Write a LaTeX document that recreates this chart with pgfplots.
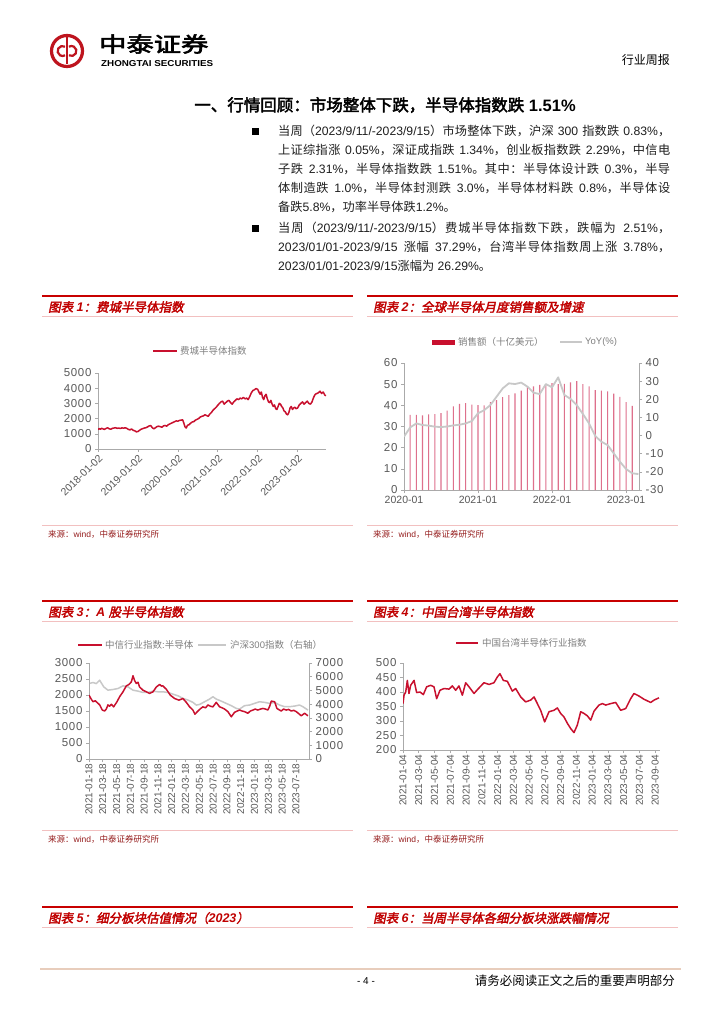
\documentclass[border=0pt]{standalone}
\usepackage{fontspec}
\usepackage{pgfplots}
\pgfplotsset{compat=1.18}
\setmainfont{Liberation Sans}
\newfontfamily\latin{Liberation Sans}
\newfontfamily\cjk{Noto Sans CJK SC}[AutoFakeBold=2.5,AutoFakeSlant=0.2]
\newfontfamily\ytf{Liberation Sans}[LetterSpace=6]

% switch to the CJK font for Chinese characters, back to Liberation Sans otherwise
\newXeTeXintercharclass\CJKcls
\count255="3000 \loop\ifnum\count255<"3040 \XeTeXcharclass\count255=\CJKcls \advance\count255 by 1 \repeat
\count255="4E00 \loop\ifnum\count255<"A000 \XeTeXcharclass\count255=\CJKcls \advance\count255 by 1 \repeat
\count255="FF00 \loop\ifnum\count255<"FFF0 \XeTeXcharclass\count255=\CJKcls \advance\count255 by 1 \repeat
\XeTeXinterchartoks 0 \CJKcls = {\cjk}
\XeTeXinterchartoks 4095 \CJKcls = {\cjk}
\XeTeXinterchartoks \CJKcls 0 = {\latin}
\XeTeXinterchartoks \CJKcls 4095 = {\latin}
\XeTeXinterchartoks \CJKcls \CJKcls = {\hskip 0pt plus 0.4pt\relax}

\definecolor{capred}{RGB}{192,0,0}
\definecolor{hdrred}{RGB}{200,0,0}
\definecolor{pinkline}{RGB}{242,192,192}
\definecolor{srcred}{RGB}{150,30,30}
\definecolor{crimson}{RGB}{200,16,46}
\definecolor{barpink}{RGB}{222,112,140}
\definecolor{lgray}{RGB}{200,200,200}
\definecolor{axgray}{RGB}{170,170,170}
\definecolor{tickgray}{RGB}{89,89,89}
\definecolor{leggray}{RGB}{128,128,128}
\definecolor{footline}{RGB}{232,205,188}
\definecolor{logored}{RGB}{190,20,30}

\pgfplotsset{
  chartax/.style={
    scale only axis, anchor=south west,
    axis line style={draw=axgray, line width=0.7pt},
    major tick style={draw=axgray, line width=0.6pt},
    major tick length=3pt, tick align=outside,
    yticklabel style={font=\ytf\fontsize{11.5}{12}\selectfont, text=tickgray},
    xticklabel style={font=\latin\fontsize{10.5}{12}\selectfont, text=tickgray},
    /pgf/number format/assume math mode=true,
    /pgf/number format/1000 sep={},
  },
}

\newcommand\capblock[4]{%
  \draw[hdrred, line width=2.4pt] (#1,-#3) -- (#2,-#3);
  \node[anchor=west, inner sep=0, font=\fontsize{12.5}{14}\selectfont\bfseries\itshape, text=capred] at (#1+6,-#3-11) {#4};
  \draw[pinkline, line width=1pt] (#1,-#3-20) -- (#2,-#3-20);
}
\newcommand\srcblock[3]{%
  \draw[pinkline, line width=1pt] (#1,-#3) -- (#2,-#3);
  \node[anchor=west, inner sep=0, font=\fontsize{8.5}{10}\selectfont, text=srcred] at (#1+6,-#3-9.5) {来源：wind，中泰证券研究所};
}

\begin{document}
\XeTeXinterchartokenstate=1
\begin{tikzpicture}[x=1pt,y=1pt]
\fill[white] (0,-1024) rectangle (724,0);
\useasboundingbox (0,-1024) rectangle (724,0);

% ---------- page header ----------
\draw[logored, line width=3.2pt] (67,-51) circle (15.5);
\draw[logored, line width=2.2pt] (67,-37.5) -- (67,-64.5);
\draw[logored, line width=2.2pt] (62.6,-51) ++(60:5) arc (60:300:5);
\draw[logored, line width=2.2pt] (71.4,-51) ++(-120:5) arc (-120:120:5);
\node[anchor=west, inner sep=0] at (99,-44) {\fontsize{21}{22}\selectfont\bfseries\scalebox{1.3}[1]{中泰证券}};
\node[anchor=west, inner sep=0] at (101,-63.5) {\resizebox{112pt}{6pt}{\bfseries ZHONGTAI SECURITIES}};
\node[anchor=east, inner sep=0, font=\fontsize{12}{14}\selectfont] at (670,-60) {行业周报};

% ---------- section title and text ----------
\node[inner sep=0, font=\fontsize{16.5}{18}\selectfont\bfseries] at (385,-105) {一、行情回顾：市场整体下跌，半导体指数跌 1.51\%};

\fill[black] (251.5,-128.5) rectangle (258.5,-135.5);
\fill[black] (251.5,-225.5) rectangle (258.5,-232.5);
\node[anchor=north west, inner sep=0, text width=392pt, align=justify,
      font=\fontsize{12.2}{19}\selectfont, text=black!88] at (278,-125)
{\tolerance=10000\hbadness=10000
当周（2023/9/11/-2023/9/15）市场整体下跌，沪深 300 指数跌 0.83\%，\linebreak
上证综指涨 0.05\%，深证成指跌 1.34\%，创业板指数跌 2.29\%，中信电\linebreak
子跌 2.31\%，半导体指数跌 1.51\%。其中：半导体设计跌 0.3\%，半导\linebreak
体制造跌 1.0\%，半导体封测跌 3.0\%，半导体材料跌 0.8\%，半导体设\linebreak
备跌5.8\%，功率半导体跌1.2\%。};
\node[anchor=north west, inner sep=0, text width=392pt, align=justify,
      font=\fontsize{12.2}{19}\selectfont, text=black!88] at (278,-222)
{\tolerance=10000\hbadness=10000
当周（2023/9/11/-2023/9/15）费城半导体指数下跌，跌幅为 2.51\%，\linebreak
2023/01/01-2023/9/15 涨幅 37.29\%，台湾半导体指数周上涨 3.78\%，\linebreak
2023/01/01-2023/9/15涨幅为 26.29\%。};

% ---------- chart frames ----------
\capblock{42}{353}{296}{图表 1：费城半导体指数}
\capblock{367}{678}{296}{图表 2：全球半导体月度销售额及增速}
\srcblock{42}{353}{525}
\srcblock{367}{678}{525}
\capblock{42}{353}{601}{图表 3：A 股半导体指数}
\capblock{367}{678}{601}{图表 4：中国台湾半导体指数}
\srcblock{42}{353}{830}
\srcblock{367}{678}{830}
\capblock{42}{353}{907}{图表 5：细分板块估值情况（2023）}
\capblock{367}{678}{907}{图表 6：当周半导体各细分板块涨跌幅情况}

% ---------- legends ----------
\begin{scope}[font=\fontsize{9.5}{11}\selectfont, text=leggray]
\draw[crimson, line width=2.5pt] (153,-351) -- (177,-351);
\node[anchor=west, inner sep=0] at (180,-351) {费城半导体指数};
\fill[crimson] (432,-339.5) rectangle (455,-344.5);
\node[anchor=west, inner sep=0] at (458,-342) {销售额（十亿美元）};
\draw[lgray, line width=2.5pt] (560,-342) -- (582,-342);
\node[anchor=west, inner sep=0] at (585,-342) {YoY(\%)};
\draw[crimson, line width=2.5pt] (78,-645) -- (102,-645);
\node[anchor=west, inner sep=0] at (105,-645) {中信行业指数:半导体};
\draw[lgray, line width=2.5pt] (198,-645) -- (226,-645);
\node[anchor=west, inner sep=0] at (230,-645) {沪深300指数（右轴）};
\draw[crimson, line width=2.5pt] (456,-643) -- (478,-643);
\node[anchor=west, inner sep=0] at (482,-643) {中国台湾半导体行业指数};
\end{scope}

% ---------- chart 1: SOX ----------
\begin{axis}[chartax, at={(98pt,-449pt)}, width=228pt, height=76pt,
  axis x line*=bottom, axis y line*=left,
  xmin=2018, xmax=2023.71, ymin=0, ymax=5000,
  ytick={0,1000,2000,3000,4000,5000},
  xtick={2018,2019,2020,2021,2022,2023},
  xticklabels={2018-01-02,2019-01-02,2020-01-02,2021-01-02,2022-01-02,2023-01-02},
  xticklabel style={rotate=45, anchor=north east, inner sep=1pt}]
\addplot[crimson, line width=1.5pt, line join=round] coordinates {
(2018.00,1280)(2018.03,1340)(2018.06,1300)(2018.09,1360)(2018.12,1330)(2018.16,1290)
(2018.20,1350)(2018.24,1400)(2018.28,1330)(2018.32,1300)(2018.36,1360)(2018.40,1380)
(2018.44,1400)(2018.48,1360)(2018.52,1380)(2018.56,1350)(2018.60,1390)(2018.64,1370)
(2018.68,1400)(2018.72,1360)(2018.76,1290)(2018.80,1260)(2018.84,1320)(2018.88,1230)
(2018.92,1200)(2018.96,1130)(2019.00,1150)(2019.04,1230)(2019.08,1300)(2019.12,1340)
(2019.16,1380)(2019.20,1400)(2019.24,1450)(2019.28,1520)(2019.32,1540)(2019.36,1400)
(2019.40,1330)(2019.44,1400)(2019.48,1480)(2019.52,1500)(2019.56,1470)(2019.60,1430)
(2019.64,1520)(2019.68,1550)(2019.72,1500)(2019.76,1600)(2019.80,1650)(2019.84,1700)
(2019.88,1750)(2019.92,1800)(2019.96,1850)(2020.00,1830)(2020.04,1880)(2020.08,1900)
(2020.12,1920)(2020.15,1700)(2020.18,1450)(2020.21,1380)(2020.24,1560)(2020.28,1600)
(2020.32,1700)(2020.36,1780)(2020.40,1800)(2020.44,1900)(2020.48,1950)(2020.52,2000)
(2020.56,2100)(2020.60,2150)(2020.64,2180)(2020.68,2250)(2020.72,2200)(2020.76,2150)
(2020.80,2300)(2020.84,2400)(2020.88,2550)(2020.92,2650)(2020.96,2750)(2021.00,2880)
(2021.04,3000)(2021.08,3100)(2021.12,3150)(2021.16,2950)(2021.20,3050)(2021.24,3150)
(2021.28,3200)(2021.32,3050)(2021.36,2950)(2021.40,3100)(2021.44,3200)(2021.48,3300)
(2021.52,3250)(2021.56,3350)(2021.60,3300)(2021.64,3400)(2021.68,3300)(2021.72,3350)
(2021.76,3250)(2021.80,3450)(2021.84,3700)(2021.88,3850)(2021.92,3900)(2021.96,3980)
(2022.00,3920)(2022.03,3750)(2022.06,3600)(2022.09,3750)(2022.12,3400)(2022.15,3250)
(2022.18,3500)(2022.21,3600)(2022.24,3300)(2022.27,3100)(2022.30,3050)(2022.33,3200)
(2022.36,2950)(2022.39,2800)(2022.42,2900)(2022.45,2650)(2022.48,2600)(2022.51,2800)
(2022.54,3000)(2022.57,2950)(2022.60,2800)(2022.63,2700)(2022.66,2500)(2022.69,2450)
(2022.72,2300)(2022.75,2250)(2022.78,2400)(2022.81,2700)(2022.84,2800)(2022.87,2600)
(2022.90,2700)(2022.93,2750)(2022.96,2650)(2023.00,2700)(2023.04,2900)(2023.08,3000)
(2023.12,3100)(2023.16,2950)(2023.20,3050)(2023.24,3150)(2023.28,3000)(2023.32,2950)
(2023.36,3100)(2023.40,3400)(2023.44,3600)(2023.48,3650)(2023.52,3700)(2023.56,3800)
(2023.60,3650)(2023.64,3750)(2023.68,3550)(2023.71,3500)};
\end{axis}

% ---------- chart 2: global semiconductor sales ----------
\begin{axis}[chartax, at={(404pt,-490pt)}, width=235pt, height=127pt,
  axis x line*=bottom, axis y line*=left,
  xmin=0, xmax=38.1, ymin=0, ymax=60,
  ytick={0,10,20,30,40,50,60},
  xtick={0,12,24,36}, xticklabels={2020-01,2021-01,2022-01,2023-01}]
\addplot[ybar, bar width=1.1pt, fill=barpink, draw=none] coordinates {
(1,35.5)(2,35.5)(3,35.3)(4,35.7)(5,35.8)(6,36.3)(7,37.5)(8,39.5)(9,40.7)(10,41.0)
(11,40.3)(12,40.1)(13,40.0)(14,41.5)(15,42.5)(16,43.9)(17,44.8)(18,45.7)(19,47.0)(20,48.6)
(21,49.0)(22,49.7)(23,49.8)(24,50.5)(25,50.0)(26,50.2)(27,50.8)(28,51.5)(29,50.0)(30,49.0)
(31,47.2)(32,47.0)(33,46.6)(34,45.5)(35,44.0)(36,41.5)(37,39.7)};
\end{axis}
\begin{axis}[chartax, at={(404pt,-490pt)}, width=235pt, height=127pt,
  axis y line*=right, axis x line=none,
  xmin=0, xmax=38.1, ymin=-30, ymax=40,
  ytick={-30,-20,-10,0,10,20,30,40}]
\addplot[lgray, line width=1.8pt, line join=round] coordinates {
(0,-0.6)(1,4.5)(2,6.7)(3,5.8)(4,5.5)(5,4.9)(6,4.7)(7,5.0)(8,5.6)(9,6.0)
(10,6.7)(11,8.0)(12,12.3)(13,14.0)(14,16.8)(15,21.4)(16,26.0)(17,28.8)(18,28.4)(19,29.2)
(20,27.0)(21,23.6)(22,22.9)(23,28.4)(24,26.6)(25,32.1)(26,22.4)(27,20.2)(28,16.8)(29,11.9)
(30,6.7)(31,-0.2)(32,-3.4)(33,-5.2)(34,-9.8)(35,-14.4)(36,-18.4)(37,-20.8)(38,-21.2)};
\end{axis}

% ---------- chart 3: A-share semiconductor vs CSI 300 ----------
\begin{axis}[chartax, at={(89pt,-759pt)}, width=220pt, height=96pt,
  axis y line*=right, axis x line=none,
  xmin=0, xmax=31.9, ymin=0, ymax=7000,
  ytick={0,1000,2000,3000,4000,5000,6000,7000}]
\addplot[lgray, line width=1.5pt, line join=round] coordinates {
(0,5503)(0.58,5576)(1.06,5500)(1.55,5745)(2.13,5262)(2.75,5020)(3.48,5070)(4.2,5140)
(4.93,5334)(5.65,5260)(6.38,5020)(7.1,4950)(7.83,4850)(8.55,4850)(9.28,4950)(10.0,4900)
(10.72,4900)(11.45,4850)(12.17,4730)(12.9,4610)(13.62,4420)(14.35,4300)(15.07,4130)
(15.56,3930)(16.04,3980)(16.76,4175)(17.49,4370)(17.97,4540)(18.45,4370)(19.18,4220)
(19.9,4055)(20.63,3890)(21.35,3690)(21.84,3645)(22.56,3890)(23.29,3935)(24.01,4055)
(24.73,4175)(25.46,4130)(26.18,4055)(26.91,4130)(27.63,3935)(28.36,3815)(29.08,3815)
(29.81,3860)(30.53,3935)(31.01,3815)(31.74,3570)};
\end{axis}
\begin{axis}[chartax, at={(89pt,-759pt)}, width=220pt, height=96pt,
  axis x line*=bottom, axis y line*=left,
  xmin=0, xmax=31.9, ymin=0, ymax=3000,
  ytick={0,500,1000,1500,2000,2500,3000},
  xtick={0,2,...,30},
  xticklabels={2021-01-18,2021-03-18,2021-05-18,2021-07-18,2021-09-18,2021-11-18,2022-01-18,2022-03-18,2022-05-18,2022-07-18,2022-09-18,2022-11-18,2023-01-18,2023-03-18,2023-05-18,2023-07-18},
  xticklabel style={rotate=90, anchor=east, inner sep=1.5pt, font=\latin\fontsize{10}{12}\selectfont}]
\addplot[crimson, line width=1.5pt, line join=round] coordinates {
(0,1996)(0.3,1880)(0.58,1790)(0.9,1820)(1.16,1770)(1.55,1690)(1.93,1530)(2.27,1500)
(2.5,1560)(2.75,1690)(3.0,1650)(3.24,1710)(3.57,1630)(4.06,1790)(4.44,1945)(4.93,2100)
(5.41,2285)(5.8,2330)(6.14,2410)(6.38,2600)(6.62,2450)(6.86,2360)(7.1,2400)(7.34,2250)
(7.83,2150)(8.31,2100)(8.79,2050)(9.28,2100)(9.76,2250)(10.24,2330)(10.5,2280)(10.72,2285)
(11.21,2180)(11.79,1995)(12.42,1890)(13.04,1840)(13.62,1890)(14.11,1770)(14.59,1630)
(15.07,1530)(15.36,1400)(15.8,1500)(16.2,1580)(16.52,1630)(16.9,1600)(17.25,1690)
(17.6,1650)(17.97,1630)(18.45,1770)(18.94,1630)(19.3,1600)(19.66,1560)(20.14,1480)
(20.63,1320)(21.11,1460)(21.5,1500)(21.84,1530)(22.2,1500)(22.56,1480)(23.04,1430)
(23.4,1500)(23.77,1530)(24.1,1560)(24.49,1530)(24.85,1560)(25.22,1580)(25.6,1560)
(25.94,1530)(26.2,1650)(26.43,1810)(26.91,1790)(27.25,1580)(27.87,1500)(28.2,1560)
(28.6,1530)(28.95,1550)(29.32,1500)(29.7,1520)(30.05,1480)(30.4,1420)(30.77,1350)
(31.26,1430)(31.74,1350)};
\end{axis}

% ---------- chart 4: Taiwan semiconductor ----------
\begin{axis}[chartax, at={(403pt,-750pt)}, width=257pt, height=87pt,
  axis x line*=bottom, axis y line*=left,
  xmin=0, xmax=32.6, ymin=200, ymax=500,
  ytick={200,250,300,350,400,450,500},
  xtick={0,2,...,32},
  xticklabels={2021-01-04,2021-03-04,2021-05-04,2021-07-04,2021-09-04,2021-11-04,2022-01-04,2022-03-04,2022-05-04,2022-07-04,2022-09-04,2022-11-04,2023-01-04,2023-03-04,2023-05-04,2023-07-04,2023-09-04},
  xticklabel style={rotate=90, anchor=east, inner sep=1.5pt, font=\latin\fontsize{10}{12}\selectfont}]
\addplot[crimson, line width=1.5pt, line join=round] coordinates {
(0,360)(0.13,389)(0.34,400)(0.55,440)(0.76,395)(0.97,423)(1.4,440)(1.73,398)(2.16,400)
(2.58,391)(3.0,418)(3.51,423)(3.93,418)(4.27,377)(4.69,406)(5.2,412)(5.84,410)(6.26,421)
(6.68,406)(7.1,421)(7.53,389)(7.95,432)(8.37,418)(9.01,395)(9.64,414)(10.27,432)(10.91,426)
(11.54,432)(11.97,452)(12.3,463)(12.73,440)(13.23,437)(13.87,403)(14.29,412)(14.93,383)
(15.56,366)(16.19,372)(16.62,383)(17.04,360)(17.46,337)(17.97,297)(18.52,332)(19.15,337)
(19.58,345)(20.0,326)(20.42,314)(20.85,292)(21.27,274)(21.69,260)(22.11,286)(22.54,332)
(22.96,326)(23.38,318)(23.81,303)(24.23,334)(24.86,355)(25.29,360)(25.71,355)(26.34,360)
(26.98,364)(27.61,337)(28.25,343)(28.88,377)(29.3,395)(29.94,386)(30.57,375)(31.42,364)
(31.84,372)(32.47,380)};
\end{axis}

% ---------- page footer ----------
\draw[footline, line width=1.5pt] (40,-969) -- (681,-969);
\node[inner sep=0, font=\fontsize{10}{12}\selectfont] at (366,-981) {- 4 -};
\node[anchor=east, inner sep=0, font=\fontsize{12.5}{14}\selectfont] at (675,-981) {请务必阅读正文之后的重要声明部分};
\end{tikzpicture}
\end{document}
